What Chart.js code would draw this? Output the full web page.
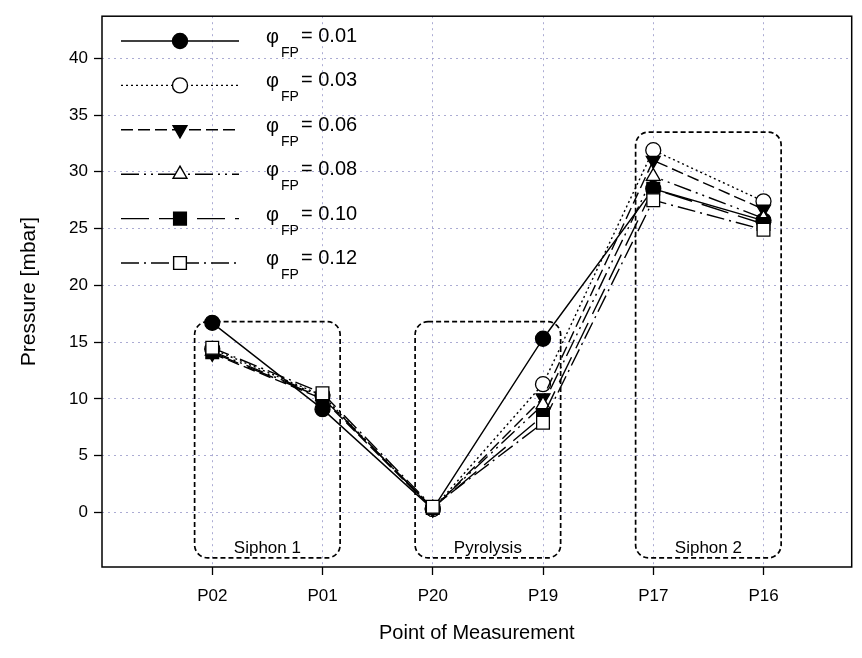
<!DOCTYPE html>
<html>
<head>
<meta charset="utf-8">
<script src="https://cdn.jsdelivr.net/npm/chart.js@4.4.0/dist/chart.umd.min.js"></script>
<style>
  html, body { margin: 0; padding: 0; background: #fff; }
  #wrap { width: 862px; height: 658px; }
</style>
</head>
<body>
<div id="wrap"><canvas id="chart"></canvas></div>
<script>
// measurement points along the loop
var points = ['P02', 'P01', 'P20', 'P19', 'P17', 'P16'];
var phiLabels = ['0.01', '0.03', '0.06', '0.08', '0.10', '0.12'];
var yTicks = [0, 5, 10, 15, 20, 25, 30, 35, 40];

// pressure [mbar] for each fill ratio phi_FP
var p001 = [16.7, 9.1, 0.3, 15.3, 28.5, 25.7];
var p003 = [14.4, 10.3, 0.3, 11.3, 31.9, 27.4];
var p006 = [14.0, 10.0, 0.3, 10.1, 31.0, 26.7];
var p008 = [14.2, 10.2, 0.4, 9.5, 29.6, 25.9];
var p010 = [14.1, 10.1, 0.4, 8.5, 28.5, 25.4];
var p012 = [14.5, 10.5, 0.5, 7.9, 27.5, 24.9];

// dashed boxes around the sections (x in point index, y in mbar)
var regionNames = ['Siphon 1', 'Pyrolysis', 'Siphon 2'];
var regionX = [[-0.16, 1.16], [1.84, 3.16], [3.84, 5.16]];
var regionY = [[-4, 16.8], [-4, 16.8], [-4, 33.5]];

var series = [p001, p003, p006, p008, p010, p012];
var styles = [
    { dash: [], point: 'circle', fill: '#000', r: 7.5, rot: 0 },
    { dash: [2, 3], point: 'circle', fill: '#fff', r: 7.5, rot: 0 },
    { dash: [12, 5], point: 'triangle', fill: '#000', r: 8, rot: 180 },
    { dash: [18, 5, 2, 5, 2, 5], point: 'triangle', fill: '#fff', r: 8, rot: 0 },
    { dash: [28, 10], point: 'rect', fill: '#000', r: 9, rot: 0 },
    { dash: [18, 5, 2, 5], point: 'rect', fill: '#fff', r: 9, rot: 0 }
];

var font = '"Liberation Sans", Arial, sans-serif';

var datasets = series.map(function (vals, i) {
    var st = styles[i];
    return {
        label: 'phi ' + phiLabels[i],
        data: vals.map(function (v, j) { return { x: j, y: v }; }),
        showLine: true,
        borderColor: '#000',
        borderWidth: 1.4,
        borderDash: st.dash,
        pointStyle: st.point,
        pointRotation: st.rot,
        pointRadius: st.r,
        pointHoverRadius: st.r,
        pointBackgroundColor: st.fill,
        pointBorderColor: '#000',
        pointBorderWidth: 1.3,
        order: 6 - i
    };
});

var frame = {
    id: 'frame',
    afterDraw: function (chart) {
        var a = chart.chartArea, ctx = chart.ctx;
        ctx.save();
        ctx.strokeStyle = '#000';
        ctx.lineWidth = 1.5;
        ctx.strokeRect(a.left, a.top, a.right - a.left, a.bottom - a.top);
        ctx.restore();
    }
};

function roundBox(ctx, x, y, w, h, r) {
    ctx.beginPath();
    ctx.moveTo(x + r, y);
    ctx.lineTo(x + w - r, y);
    ctx.arcTo(x + w, y, x + w, y + r, r);
    ctx.lineTo(x + w, y + h - r);
    ctx.arcTo(x + w, y + h, x + w - r, y + h, r);
    ctx.lineTo(x + r, y + h);
    ctx.arcTo(x, y + h, x, y + h - r, r);
    ctx.lineTo(x, y + r);
    ctx.arcTo(x, y, x + r, y, r);
    ctx.closePath();
}

var regions = {
    id: 'regions',
    beforeDatasetsDraw: function (chart) {
        var ctx = chart.ctx, xs = chart.scales.x, ys = chart.scales.y;
        ctx.save();
        ctx.strokeStyle = '#000';
        ctx.lineWidth = 1.7;
        ctx.setLineDash([5, 3]);
        for (var i = 0; i < regionNames.length; i++) {
            var x1 = xs.getPixelForValue(regionX[i][0]);
            var x2 = xs.getPixelForValue(regionX[i][1]);
            var y1 = ys.getPixelForValue(regionY[i][1]);
            var y2 = ys.getPixelForValue(regionY[i][0]);
            roundBox(ctx, x1, y1, x2 - x1, y2 - y1, 13);
            ctx.stroke();
        }
        ctx.setLineDash([]);
        ctx.fillStyle = '#000';
        ctx.font = '17px ' + font;
        ctx.textAlign = 'center';
        ctx.textBaseline = 'middle';
        for (var k = 0; k < regionNames.length; k++) {
            var cx = xs.getPixelForValue((regionX[k][0] + regionX[k][1]) / 2);
            var by = ys.getPixelForValue(regionY[k][0]);
            ctx.fillText(regionNames[k], cx, by - 10);
        }
        ctx.restore();
    }
};

var legendBox = {
    id: 'legendBox',
    afterDraw: function (chart) {
        var ctx = chart.ctx;
        ctx.save();
        for (var i = 0; i < phiLabels.length; i++) {
            var st = styles[i];
            var cy = 41 + 44.4 * i;
            ctx.strokeStyle = '#000';
            ctx.lineWidth = 1.4;
            ctx.setLineDash(st.dash);
            ctx.beginPath();
            ctx.moveTo(121, cy);
            ctx.lineTo(239, cy);
            ctx.stroke();
            ctx.setLineDash([]);
            ctx.fillStyle = st.fill;
            Chart.helpers.drawPoint(ctx, { pointStyle: st.point, rotation: st.rot, radius: st.r, borderWidth: 1.3 }, 180, cy);

            ctx.fillStyle = '#000';
            ctx.textAlign = 'left';
            ctx.textBaseline = 'alphabetic';
            ctx.font = '20px ' + font;
            ctx.fillText('\u03c6', 266, cy + 2);
            ctx.font = '14px ' + font;
            ctx.fillText('FP', 281, cy + 16);
            ctx.font = '20px ' + font;
            ctx.fillText('= ' + phiLabels[i], 301, cy + 1);
        }
        ctx.restore();
    }
};

var gridColor = 'rgba(150, 150, 200, 0.8)';

new Chart(document.getElementById('chart'), {
    type: 'scatter',
    data: { datasets: datasets },
    options: {
        responsive: true,
        maintainAspectRatio: false,
        animation: false,
        layout: { padding: { left: 0, right: 9, top: 12, bottom: 0 } },
        plugins: {
            legend: { display: false },
            tooltip: { enabled: false }
        },
        scales: {
            x: {
                type: 'linear',
                min: -1,
                max: 5.8,
                afterBuildTicks: function (s) { s.ticks = points.map(function (p, i) { return { value: i }; }); },
                afterFit: function (s) { s.height = 91; },
                ticks: {
                    color: '#000',
                    font: { size: 17, family: font },
                    padding: 11,
                    autoSkip: false,
                    maxRotation: 0,
                    callback: function (v) { return points[v]; }
                },
                grid: { color: gridColor, lineWidth: 1, tickColor: '#000', tickLength: 8, tickWidth: 1.3, tickBorderDash: [] },
                border: { display: false, dash: [2, 4] },
                title: {
                    display: true,
                    text: 'Point of Measurement',
                    color: '#000',
                    font: { size: 20, family: font },
                    padding: { top: 0, bottom: 13 }
                }
            },
            y: {
                min: -4.8,
                max: 43.7,
                afterBuildTicks: function (s) { s.ticks = yTicks.map(function (v) { return { value: v }; }); },
                afterFit: function (s) { s.width = 102; },
                ticks: {
                    color: '#000',
                    font: { size: 17, family: font },
                    padding: 6
                },
                grid: { color: gridColor, lineWidth: 1, tickColor: '#000', tickLength: 8, tickWidth: 1.3, tickBorderDash: [] },
                border: { display: false, dash: [2, 4] },
                title: {
                    display: true,
                    text: 'Pressure [mbar]',
                    color: '#000',
                    font: { size: 21, family: font },
                    padding: { top: 17, bottom: 0 }
                }
            }
        }
    },
    plugins: [regions, frame, legendBox]
});
</script>
</body>
</html>
